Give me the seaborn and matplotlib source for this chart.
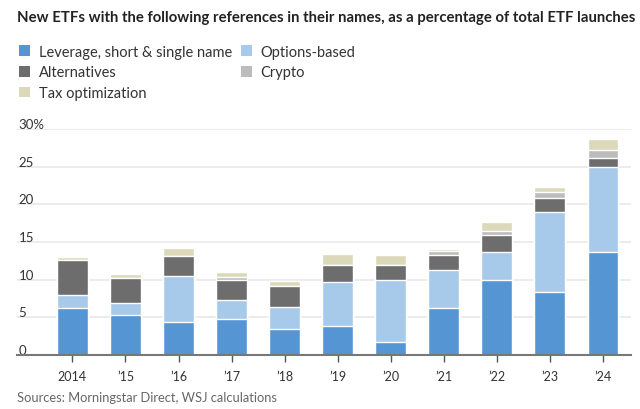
import numpy as np
import pandas as pd
import matplotlib
matplotlib.use("Agg")
import matplotlib.pyplot as plt
import matplotlib.transforms as mtransforms
from matplotlib.patches import Patch
import seaborn as sns

years = ["2014", "\u201915", "\u201916", "\u201917", "\u201918", "\u201919",
         "\u201920", "\u201921", "\u201922", "\u201923", "\u201924"]
leverage = [6.2, 5.35, 4.3, 4.7, 3.45, 3.8, 1.7, 6.2, 10.0, 8.3, 13.6]
options = [1.7, 1.5, 6.2, 2.6, 2.9, 5.85, 8.3, 5.1, 3.7, 10.7, 11.35]
alternatives = [4.75, 3.4, 2.65, 2.7, 2.85, 2.35, 2.0, 1.95, 2.2, 1.8, 1.25]
crypto = [0.0, 0.0, 0.0, 0.4, 0.0, 0.0, 0.0, 0.55, 0.5, 0.8, 1.0]
tax = [0.4, 0.5, 1.0, 0.6, 0.65, 1.45, 1.2, 0.25, 1.2, 0.65, 1.5]

series_names = ["Leverage, short & single name", "Options-based", "Alternatives",
                "Crypto", "Tax optimization"]
series_vals = [leverage, options, alternatives, crypto, tax]
colors = ["#5595d4", "#a7c9ea", "#6d6d6d", "#bcbcbc", "#dcd9bb"]

yticks = [0, 5, 10, 15, 20, 25, 30]
ytick_labels = ["0", "5", "10", "15", "20", "25", "30%"]

sns.set_theme(style="white")
plt.rcParams["font.family"] = ["Lato", "DejaVu Sans"]

fig = plt.figure(figsize=(6.4, 4.1), dpi=100)
ax = fig.add_axes([0.027, 0.132, 0.959, 0.551])

df = pd.DataFrame({"year": years})
cum = np.zeros(len(years))
cums = []
for vals in series_vals:
    cum = cum + np.array(vals)
    cums.append(cum.copy())

# draw from top of stack downwards so lower segments overlay upper ones
for i in range(len(series_vals) - 1, -1, -1):
    d = df.copy()
    d["v"] = cums[i]
    sns.barplot(data=d, x="year", y="v", color=colors[i], saturation=1,
                width=0.58, edgecolor="white", linewidth=1.0, ax=ax,
                errorbar=None)

ax.set_xlim(-1.04, 10.53)
ax.set_ylim(0, 30)
ax.set_xlabel("")
ax.set_ylabel("")
ax.set_yticks(yticks)
ax.set_yticklabels(ytick_labels)
ax.yaxis.grid(True, color="#e9e9e9", linewidth=1.2, zorder=0)
ax.set_axisbelow(True)
for s in ["top", "right", "left"]:
    ax.spines[s].set_visible(False)
ax.spines["bottom"].set_color("#777777")
ax.spines["bottom"].set_linewidth(1.5)

ax.tick_params(axis="x", length=5, width=1, color="#555555", pad=6,
               labelsize=9, labelcolor="#333333", bottom=True)
ax.tick_params(axis="y", length=0, pad=-1, labelsize=9.5, labelcolor="#333333")
offset = mtransforms.ScaledTranslation(0, 6 / 100, fig.dpi_scale_trans)
for lab in ax.get_yticklabels():
    lab.set_horizontalalignment("left")
    lab.set_transform(lab.get_transform() + offset)

fig.text(0.027, 0.955, "New ETFs with the following references in their names, as a percentage of total ETF launches",
         fontsize=10.7, fontweight="bold", color="#222222", ha="left", va="center")

order = [0, 2, 4, 1, 3]
handles = [Patch(facecolor=colors[i], edgecolor="none", label=series_names[i]) for i in order]
fig.legend(handles=handles, loc="upper left", bbox_to_anchor=(0.03, 0.888), ncol=2,
           frameon=False, fontsize=10.5, handlelength=0.75, handleheight=0.75,
           handletextpad=0.6, columnspacing=0.6, labelspacing=0.45,
           borderaxespad=0, borderpad=0, labelcolor="#333333")

fig.text(0.027, 0.03, "Sources: Morningstar Direct, WSJ calculations",
         fontsize=9.3, color="#666666", ha="left", va="center")

fig.savefig("out.png", dpi=100)
